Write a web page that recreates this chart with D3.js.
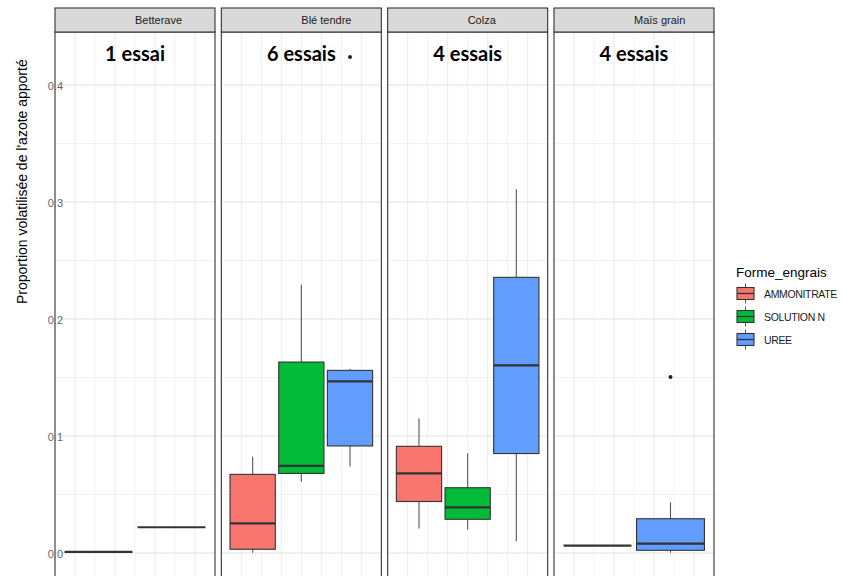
<!DOCTYPE html>
<html><head><meta charset="utf-8">
<script src="https://cdn.jsdelivr.net/npm/d3@7"></script>
<style>html,body{margin:0;padding:0;background:#fff;}svg{display:block;}</style>
</head><body>
<svg id="chart" width="842" height="576"></svg>
<script>
// ---- data ----
const crops = ["Betterave", "Blé tendre", "Colza", "Maïs grain"];
const essais = ["1 essai", "6 essais", "4 essais", "4 essais"];
const formes = ["AMMONITRATE", "SOLUTION N", "UREE"];
const formeColors = ["#F8766D", "#00BA38", "#619CFF"];

const boxCrop  = ["Betterave","Betterave","Blé tendre","Blé tendre","Blé tendre","Colza","Colza","Colza","Maïs grain","Maïs grain"];
const boxForme = ["AMMONITRATE","UREE","AMMONITRATE","SOLUTION N","UREE","AMMONITRATE","SOLUTION N","UREE","AMMONITRATE","UREE"];
const whiskerLow  = [0.001, 0.022, 0.0003, 0.061, 0.074, 0.021, 0.020, 0.010, 0.0063, 0.0003];
const q1          = [0.001, 0.022, 0.0032, 0.068, 0.0915, 0.044, 0.0288, 0.085, 0.0063, 0.0023];
const median      = [0.001, 0.022, 0.0254, 0.0744, 0.1467, 0.068, 0.039, 0.1604, 0.0063, 0.008];
const q3          = [0.001, 0.022, 0.0672, 0.1632, 0.1561, 0.0912, 0.0558, 0.2356, 0.0063, 0.0293];
const whiskerHigh = [0.001, 0.022, 0.0823, 0.2293, 0.1573, 0.1151, 0.0852, 0.3108, 0.0063, 0.0433];

const outlierCrop  = ["Blé tendre", "Maïs grain"];
const outlierForme = ["UREE", "UREE"];
const outlierValue = [0.424, 0.1504];

const yTicks = [0, 0.1, 0.2, 0.3, 0.4];
const yMinor = [0.05, 0.15, 0.25, 0.35];
const yTitle = "Proportion volatilisée de l'azote apporté";
const legendTitle = "Forme_engrais";

// ---- layout ----
const svg = d3.select("#chart");
const font = "'Liberation Sans', Arial, sans-serif";
const panelTop = 32, panelBottom = 600, stripTop = 8;
const panelW = 160, firstLeft = 55, gap = 6.33;
const y = d3.scaleLinear().domain([0, 0.4]).range([553, 85]);
const fx = d3.scaleOrdinal().domain(crops).range(crops.map((c, i) => firstLeft + i * (panelW + gap)));
const colorOf = d3.scaleOrdinal().domain(formes).range(formeColors);

const boxes = boxCrop.map((c, i) => ({crop: c, forme: boxForme[i], lo: whiskerLow[i], q1: q1[i], med: median[i], q3: q3[i], hi: whiskerHigh[i]}));

const clipDefs = svg.append("defs");

crops.forEach((crop, ci) => {
  const x0 = fx(crop);
  const cx = x0 + panelW / 2;
  const g = svg.append("g");
  clipDefs.append("clipPath").attr("id", "clip" + ci)
    .append("rect").attr("x", x0).attr("y", panelTop).attr("width", panelW).attr("height", panelBottom - panelTop);
  const inner = g.append("g").attr("clip-path", `url(#clip${ci})`);

  // grid
  inner.selectAll(".vg").data(d3.range(1, 8)).join("line")
    .attr("x1", k => x0 + k * 20).attr("x2", k => x0 + k * 20)
    .attr("y1", panelTop).attr("y2", panelBottom)
    .attr("stroke", "#EBEBEB").attr("stroke-width", k => k % 2 ? 1.1 : 0.7);
  inner.selectAll(".hgm").data(yMinor.concat([-0.05])).join("line")
    .attr("x1", x0).attr("x2", x0 + panelW).attr("y1", d => y(d)).attr("y2", d => y(d))
    .attr("stroke", "#EBEBEB").attr("stroke-width", 0.7);
  inner.selectAll(".hg").data(yTicks).join("line")
    .attr("x1", x0).attr("x2", x0 + panelW).attr("y1", d => y(d)).attr("y2", d => y(d))
    .attr("stroke", "#EBEBEB").attr("stroke-width", 1.3);

  // boxes
  const present = boxes.filter(b => b.crop === crop);
  const xb = d3.scaleBand().domain(present.map(b => b.forme)).range([cx - 73, cx + 73]).padding(0);
  const bw = xb.bandwidth() * 0.93;
  present.forEach(b => {
    const bx = xb(b.forme) + xb.bandwidth() / 2;
    inner.append("line").attr("x1", bx).attr("x2", bx).attr("y1", y(b.hi)).attr("y2", y(b.q3))
      .attr("stroke", "#555").attr("stroke-width", 1.1);
    inner.append("line").attr("x1", bx).attr("x2", bx).attr("y1", y(b.q1)).attr("y2", y(b.lo))
      .attr("stroke", "#555").attr("stroke-width", 1.1);
    inner.append("rect").attr("x", bx - bw / 2).attr("y", y(b.q3)).attr("width", bw)
      .attr("height", Math.max(0, y(b.q1) - y(b.q3)))
      .attr("fill", colorOf(b.forme)).attr("stroke", "#333").attr("stroke-width", 1.1);
    inner.append("line").attr("x1", bx - bw / 2).attr("x2", bx + bw / 2).attr("y1", y(b.med)).attr("y2", y(b.med))
      .attr("stroke", "#333").attr("stroke-width", 2.2);
  });
  outlierValue.forEach((v, i) => {
    if (outlierCrop[i] !== crop) return;
    const bx = xb(outlierForme[i]) + xb.bandwidth() / 2;
    inner.append("circle").attr("cx", bx).attr("cy", y(v)).attr("r", 2).attr("fill", "#222");
  });

  // annotation
  g.append("text").attr("x", cx).attr("y", 61).attr("text-anchor", "middle")
    .attr("font-family", "Lato, 'Open Sans', sans-serif").attr("font-weight", 700).attr("font-size", 20)
    .attr("fill", "#000").text(essais[ci]);

  // panel border
  g.append("rect").attr("x", x0).attr("y", panelTop).attr("width", panelW).attr("height", panelBottom - panelTop)
    .attr("fill", "none").attr("stroke", "#333").attr("stroke-width", 1.1);
  // strip
  g.append("rect").attr("x", x0).attr("y", stripTop).attr("width", panelW).attr("height", panelTop - stripTop)
    .attr("fill", "#D9D9D9").attr("stroke", "#333").attr("stroke-width", 1.1);
  g.append("text").attr("x", cx).attr("y", 24).attr("text-anchor", "start")
    .attr("font-family", font).attr("font-size", 11).attr("fill", "#1A1A1A").text(crop);
});

// y tick labels
svg.selectAll(".ytl").data(yTicks).join("text")
  .attr("x", 63).attr("y", d => y(d) + 5).attr("text-anchor", "end")
  .attr("font-family", font).attr("font-size", 11).attr("fill", "#666")
  .text(d => d3.format(".1f")(d));

// y title
svg.append("text").attr("transform", "translate(27,304) rotate(-90)")
  .attr("text-anchor", "start").attr("font-family", font).attr("font-size", 14).attr("fill", "#000")
  .text(yTitle);

// legend
const lg = svg.append("g");
lg.append("text").attr("x", 736).attr("y", 277).attr("font-family", font).attr("font-size", 13.5)
  .attr("fill", "#000").text(legendTitle);
formes.forEach((f, i) => {
  const cy = 293.5 + i * 23;
  lg.append("line").attr("x1", 745.5).attr("x2", 745.5).attr("y1", cy - 10).attr("y2", cy + 10)
    .attr("stroke", "#555").attr("stroke-width", 1);
  lg.append("rect").attr("x", 737).attr("y", cy - 6).attr("width", 17).attr("height", 12)
    .attr("fill", colorOf(f)).attr("stroke", "#333").attr("stroke-width", 1.1);
  lg.append("line").attr("x1", 737).attr("x2", 754).attr("y1", cy).attr("y2", cy)
    .attr("stroke", "#333").attr("stroke-width", 1.3);
  lg.append("text").attr("x", 764).attr("y", cy + 4).attr("font-family", font).attr("font-size", 10.5)
    .attr("letter-spacing", -0.35).attr("fill", "#1A1A1A").text(f);
});
</script>
</body></html>
